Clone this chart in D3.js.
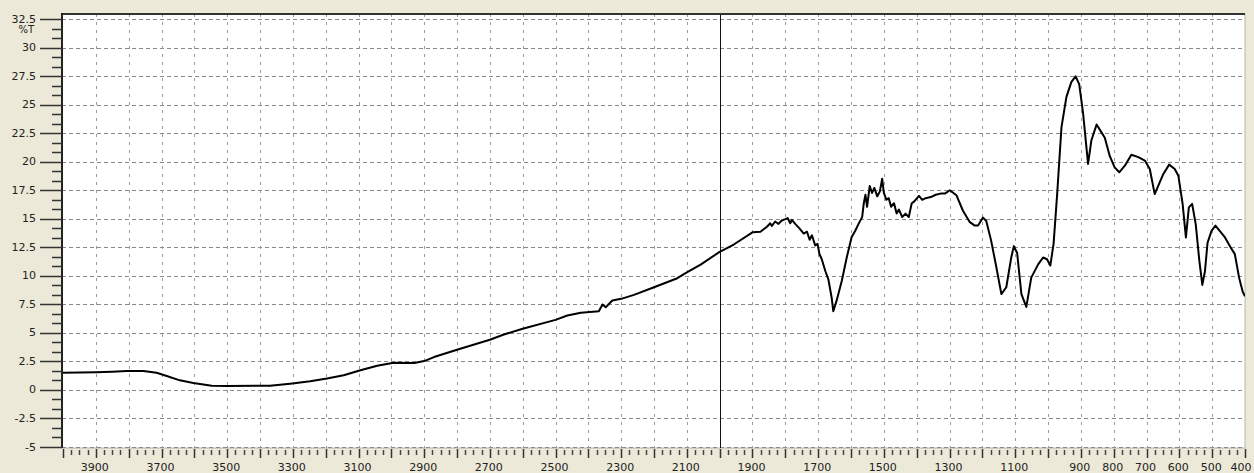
<html>
<head>
<script src="https://d3js.org/d3.v7.min.js"></script>
<style>
body { margin: 0; background: #ECE9D8; }
svg { display: block; }
text { font-family: 'DejaVu Sans', Verdana, sans-serif; font-size: 11px; fill: #222; }
</style>
</head>
<body>
<svg width="1254" height="473"></svg>
<script>
// spectrum, wavenumber (cm-1) -> %T
const wavenumbers = [4000, 3950, 3900, 3850, 3806, 3755, 3715, 3684, 3644, 3603, 3547, 3500, 3370, 3308, 3247, 3196, 3145, 3094, 3043, 2993,
  2930, 2900, 2870, 2800, 2700, 2657, 2600, 2500, 2464, 2423, 2368, 2357, 2347, 2327, 2300, 2261, 2200, 2129, 2100, 2058,
  2000, 1957, 1899, 1876, 1856, 1846, 1841, 1831, 1821, 1811, 1800, 1793, 1785, 1780, 1770, 1757, 1744, 1734, 1726, 1719,
  1709, 1702, 1696, 1689, 1678, 1669, 1659, 1654, 1644, 1628, 1613, 1598, 1587, 1577, 1566, 1561, 1556, 1551, 1543, 1536,
  1529, 1520, 1512, 1505, 1500, 1492, 1485, 1478, 1469, 1461, 1454, 1444, 1434, 1424, 1415, 1408, 1393, 1383, 1373, 1357,
  1342, 1327, 1314, 1299, 1279, 1259, 1238, 1223, 1213, 1198, 1188, 1173, 1157, 1142, 1127, 1112, 1104, 1094, 1081, 1066,
  1051, 1030, 1015, 1003, 993, 983, 972, 959, 944, 929, 916, 905, 893, 885, 878, 868, 852, 840, 827, 812,
  797, 783, 766, 746, 725, 705, 690, 675, 664, 649, 631, 614, 603, 590, 580, 571, 561, 550, 539, 530,
  522, 514, 502, 490, 477, 461, 444, 431, 418, 407, 400];
const transmittance = [1.5, 1.52, 1.55, 1.6, 1.66, 1.66, 1.5, 1.22, 0.84, 0.6, 0.36, 0.35, 0.36, 0.55, 0.76, 1.0, 1.28, 1.72, 2.12, 2.38,
  2.36, 2.53, 2.88, 3.52, 4.4, 4.86, 5.36, 6.14, 6.52, 6.76, 6.9, 7.49, 7.25, 7.83, 7.98, 8.33, 9.0, 9.79, 10.3, 10.98,
  12.1, 12.74, 13.82, 13.86, 14.3, 14.6, 14.37, 14.76, 14.55, 14.85, 14.97, 15.06, 14.6, 14.9, 14.55, 14.16, 13.7, 13.86, 13.16, 13.55,
  12.65, 12.8, 11.9, 11.45, 10.4, 9.7, 8.1, 6.9, 7.8, 9.56, 11.6, 13.4, 13.95, 14.55, 15.15, 16.36, 17.1, 16.05, 17.86, 17.26,
  17.7, 16.96, 17.4, 18.5, 17.26, 16.66, 16.8, 16.05, 16.36, 15.45, 15.8, 15.15, 15.45, 15.15, 16.36, 16.5, 17.0, 16.66, 16.8, 16.9,
  17.1, 17.2, 17.2, 17.5, 17.06, 15.7, 14.7, 14.4, 14.4, 15.1, 14.8, 13.06, 10.7, 8.4, 9.0, 11.6, 12.6, 12.0, 8.4, 7.27,
  9.84, 11.0, 11.6, 11.45, 10.9, 12.8, 17.2, 23.0, 25.66, 26.97, 27.47, 26.8, 24.2, 21.85, 19.8, 21.85, 23.25, 22.7, 22.1, 20.5,
  19.5, 19.07, 19.65, 20.6, 20.4, 20.1, 19.36, 17.16, 17.9, 18.9, 19.74, 19.36, 18.77, 16.3, 13.36, 16.0, 16.3, 14.5, 11.3, 9.2,
  10.4, 12.9, 13.94, 14.4, 13.94, 13.36, 12.5, 11.9, 9.84, 8.6, 8.2];

const yTicks = [32.5, 30, 27.5, 25, 22.5, 20, 17.5, 15, 12.5, 10, 7.5, 5, 2.5, 0, -2.5, -5];
const xLabels = [3900, 3700, 3500, 3300, 3100, 2900, 2700, 2500, 2300, 2100, 1900, 1700, 1500, 1300, 1100, 900, 800, 700, 600, 500, 400];
const xGrid = d3.range(3900, 400, -100).filter(d => d != 2000);
const markerLine = 2000;

const pLeft = 62, pRight = 1245, pTop = 14, pBottom = 448;

var x = d3.scaleLinear().domain([4000, 400]).range([63, 1245]);
var y = d3.scaleLinear().domain([-5, 32.5]).range([447, 19]);

const svg = d3.select("svg");

// plot area
svg.append("rect")
  .attr("x", pLeft).attr("y", pTop)
  .attr("width", pRight - pLeft).attr("height", pBottom - pTop)
  .attr("fill", "white")
  .attr("stroke", "#b8b6a8");

// grid
svg.append("g")
  .selectAll("line")
  .data(yTicks)
  .enter()
  .append("line")
  .attr("x1", pLeft).attr("x2", pRight)
  .attr("y1", d => Math.round(y(d)) + 0.5).attr("y2", d => Math.round(y(d)) + 0.5)
  .attr("stroke", "#8a8a8a")
  .attr("stroke-dasharray", "4,3");

svg.append("g")
  .selectAll("line")
  .data(xGrid)
  .enter()
  .append("line")
  .attr("x1", d => Math.round(x(d)) + 0.5).attr("x2", d => Math.round(x(d)) + 0.5)
  .attr("y1", pTop).attr("y2", pBottom)
  .attr("stroke", "#9a9a9a")
  .attr("stroke-dasharray", "3,5");

// 2000 cm-1 marker
svg.append("line")
  .attr("x1", Math.round(x(markerLine)) + 0.5).attr("x2", Math.round(x(markerLine)) + 0.5)
  .attr("y1", pTop).attr("y2", pBottom)
  .attr("stroke", "#111")
  .attr("stroke-width", 1);

// spectrum
svg.append("clipPath").attr("id", "clip")
  .append("rect").attr("x", pLeft).attr("y", pTop).attr("width", pRight - pLeft).attr("height", pBottom - pTop);

const pts = wavenumbers.map((w, i) => [w, transmittance[i]]);
svg.append("path")
  .datum(pts)
  .attr("clip-path", "url(#clip)")
  .attr("fill", "none")
  .attr("stroke", "black")
  .attr("stroke-width", 2)
  .attr("stroke-linejoin", "round")
  .attr("d", d3.line().x(d => x(d[0])).y(d => y(d[1])));

// frame: top and left
svg.append("line")
  .attr("x1", pLeft).attr("x2", pRight).attr("y1", pTop).attr("y2", pTop)
  .attr("stroke", "#333").attr("stroke-width", 2);
svg.append("line")
  .attr("x1", pLeft).attr("x2", pLeft).attr("y1", pTop - 1).attr("y2", y(-5) + 1)
  .attr("stroke", "#222").attr("stroke-width", 2);

// y axis ticks
const yMinor = [];
yTicks.slice(0, -1).forEach(t => { yMinor.push(t - 2.5 / 3, t - 5 / 3); });

svg.append("g")
  .selectAll("line")
  .data(yTicks)
  .enter()
  .append("line")
  .attr("x1", 40).attr("x2", pLeft)
  .attr("y1", d => Math.round(y(d)) + 0.5).attr("y2", d => Math.round(y(d)) + 0.5)
  .attr("stroke", "#333").attr("stroke-width", 1.5);

svg.append("g")
  .selectAll("line")
  .data(yMinor)
  .enter()
  .append("line")
  .attr("x1", 52).attr("x2", pLeft)
  .attr("y1", d => Math.round(y(d)) + 0.5).attr("y2", d => Math.round(y(d)) + 0.5)
  .attr("stroke", "#333").attr("stroke-width", 1.5);

svg.append("g")
  .selectAll("text")
  .data(yTicks)
  .enter()
  .append("text")
  .attr("x", 36)
  .attr("y", d => y(d) + 3.5)
  .attr("text-anchor", "end")
  .text(d => d);

svg.append("text")
  .attr("x", 34).attr("y", 33)
  .attr("text-anchor", "end")
  .style("font-size", "10px")
  .text("%T");

// x axis ticks
const xMajor = d3.range(4000, 399, -100);
const xMinor = d3.range(3975, 400, -25).filter(d => d % 100 != 0);

svg.append("g")
  .selectAll("line")
  .data(xMajor)
  .enter()
  .append("line")
  .attr("x1", d => Math.round(x(d)) + 0.5).attr("x2", d => Math.round(x(d)) + 0.5)
  .attr("y1", 449).attr("y2", 458)
  .attr("stroke", "#333").attr("stroke-width", 1.5);

svg.append("g")
  .selectAll("line")
  .data(xMinor)
  .enter()
  .append("line")
  .attr("x1", d => Math.round(x(d)) + 0.5).attr("x2", d => Math.round(x(d)) + 0.5)
  .attr("y1", 450).attr("y2", 455)
  .attr("stroke", "#444").attr("stroke-width", 1.5);

svg.append("g")
  .selectAll("text")
  .data(xLabels)
  .enter()
  .append("text")
  .attr("x", d => Math.min(x(d) - 1, 1241))
  .attr("y", 471)
  .attr("text-anchor", "middle")
  .text(d => d);
</script>
</body>
</html>
